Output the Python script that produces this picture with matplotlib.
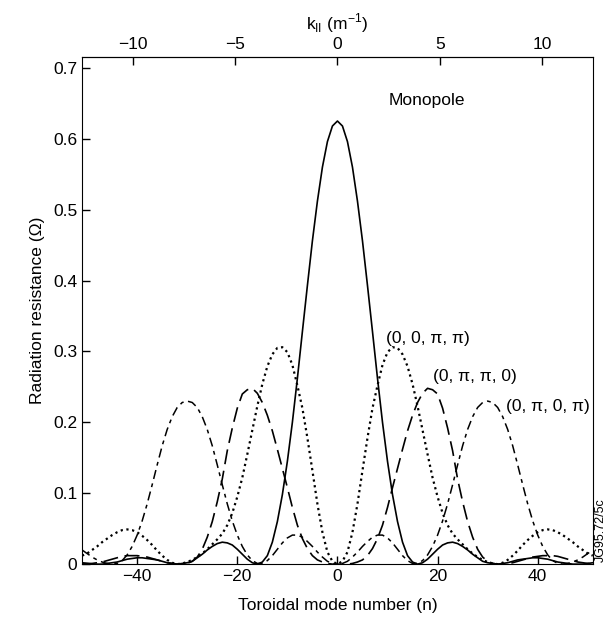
import matplotlib
matplotlib.use("Agg")
import matplotlib.pyplot as plt

plt.rcParams["font.family"] = ["Liberation Sans", "DejaVu Sans"]
plt.rcParams["font.size"] = 12

# toroidal mode number grid (read every unit of n)
n = list(range(-51, 52))

monopole = [
    .002, .001, .000, .000, .000, .001, .002, .003, .005, .007, .008, .009, .009, .008, .007, .006,
    .004, .002, .001, .000, .001, .002, .004, .009, .014, .020, .025, .029, .031, .030, .027, .021,
    .014, .007, .002, .000, .003, .012, .031, .060, .098, .145, .200, .262, .328, .393, .456, .512,
    .560, .596, .618, .625, .618, .596, .560, .512, .456, .393, .328, .262, .200, .145, .098, .060,
    .031, .012, .003, .000, .002, .007, .014, .021, .027, .030, .031, .029, .025, .020, .014, .009,
    .004, .002, .001, .000, .001, .002, .004, .006, .007, .008, .009, .009, .008, .007, .005, .003,
    .002, .001, .000, .000, .000, .001, .002,
]

mode_00pp = [
    .012, .015, .020, .025, .031, .036, .041, .045, .048, .049, .048, .045, .040, .034, .027, .019,
    .012, .006, .002, .000, .001, .003, .006, .010, .015, .021, .028, .035, .043, .055, .072, .095,
    .122, .155, .189, .223, .254, .279, .296, .305, .306, .299, .281, .252, .220, .178, .132, .085,
    .045, .017, .004, .000, .004, .017, .045, .085, .132, .178, .220, .252, .281, .299, .306, .305,
    .296, .279, .254, .223, .189, .155, .122, .095, .072, .055, .043, .035, .028, .021, .015, .010,
    .006, .003, .001, .000, .002, .006, .012, .019, .027, .034, .040, .045, .048, .049, .048, .045,
    .041, .036, .031, .025, .020, .015, .012,
]

mode_0pp0 = [
    .001, .001, .001, .002, .003, .005, .007, .009, .011, .012, .012, .012, .011, .010, .008, .006,
    .004, .002, .001, .000, .000, .001, .004, .010, .021, .038, .060, .088, .120, .160, .192, .220,
    .240, .246, .248, .241, .228, .210, .188, .162, .135, .108, .080, .055, .036, .022, .012, .006,
    .003, .001, .000, .000, .000, .000, .001, .003, .006, .012, .022, .036, .055, .080, .108, .135,
    .162, .188, .210, .228, .241, .248, .246, .240, .220, .192, .160, .120, .088, .060, .038, .021,
    .010, .004, .001, .000, .000, .001, .002, .004, .006, .008, .010, .011, .012, .012, .012, .011,
    .009, .007, .005, .003, .002, .001, .001,
]

mode_0p0p = [
    .020, .015, .010, .006, .003, .001, .000, .001, .005, .013, .025, .041, .061, .085, .112, .140,
    .167, .190, .208, .221, .228, .230, .228, .221, .208, .190, .167, .140, .112, .085, .061, .041,
    .025, .013, .005, .001, .001, .005, .012, .021, .030, .037, .041, .041, .038, .032, .025, .017,
    .010, .004, .001, .000, .001, .004, .010, .017, .025, .032, .038, .041, .041, .037, .030, .021,
    .012, .005, .001, .001, .005, .013, .025, .041, .061, .085, .112, .140, .167, .190, .208, .221,
    .228, .230, .228, .221, .208, .190, .167, .140, .112, .085, .061, .041, .025, .013, .005, .001,
    .000, .001, .003, .006, .010, .015, .020,
]

labels = ["Monopole", "(0, 0, \u03c0, \u03c0)", "(0, \u03c0, \u03c0, 0)", "(0, \u03c0, 0, \u03c0)"]
R_major = 4.09  # k_par = n / R

fig = plt.figure(figsize=(6.08, 6.22), dpi=100)
ax = fig.add_axes([0.135, 0.093, 0.840, 0.815])

ax.plot(n, monopole, color="black", lw=1.2, ls="-")
ax.plot(n, mode_00pp, color="black", lw=1.6, ls=(0, (1, 1.6)))
ax.plot(n, mode_0pp0, color="black", lw=1.2, ls=(0, (9, 4)))
ax.plot(n, mode_0p0p, color="black", lw=1.1, ls=(0, (6, 3, 2.5, 3)))

ax.set_xlim(-51, 51)
ax.set_ylim(0, 0.715)
ax.set_xticks([-40, -20, 0, 20, 40])
ax.set_xticklabels(["\u221240", "\u221220", "0", "20", "40"])
ax.set_yticks([0, 0.1, 0.2, 0.3, 0.4, 0.5, 0.6, 0.7])
ax.set_yticklabels(["0", "0.1", "0.2", "0.3", "0.4", "0.5", "0.6", "0.7"])
ax.tick_params(direction="in", length=6, width=1, labelsize=12.5)
ax.set_xlabel("Toroidal mode number (n)", fontsize=12.5, labelpad=10)
ax.set_ylabel("Radiation resistance (\u03a9)", fontsize=12.5, labelpad=6)

top = ax.secondary_xaxis("top", functions=(lambda x: x / R_major, lambda k: k * R_major))
top.set_xticks([-10, -5, 0, 5, 10])
top.set_xticklabels(["\u221210", "\u22125", "0", "5", "10"])
top.tick_params(direction="in", length=6, width=1, labelsize=12.5)
top.set_xlabel("k$_{\\mathregular{II}}$ (m$^{\\mathregular{-1}}$)", fontsize=12.5, labelpad=6)

ax.text(10.2, 0.654, labels[0], fontsize=12.5, va="center")
ax.text(9.6, 0.318, labels[1], fontsize=12.5, va="center")
ax.text(19.1, 0.264, labels[2], fontsize=12.5, va="center")
ax.text(33.6, 0.223, labels[3], fontsize=12.5, va="center")

fig.text(0.988, 0.148, "JG95.72/5c", rotation=90, fontsize=9, ha="center", va="center")

fig.savefig("out.png", dpi=100)
